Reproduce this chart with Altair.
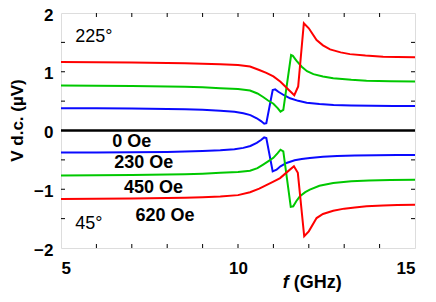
import altair as alt
import pandas as pd

# ---- data ----
zero_f = [5, 15]
zero_v = [0, 0]

blue_pos_f = [5, 6, 7, 8, 8.5, 9, 9.5, 9.9, 10.15, 10.35, 10.53, 10.65, 10.74, 10.8, 10.98, 11.05, 11.14, 11.3, 11.47, 11.7, 11.94, 12.3, 12.7, 13.2, 13.8, 14.4, 15]
blue_pos_v = [0.38, 0.378, 0.374, 0.367, 0.361, 0.352, 0.338, 0.318, 0.295, 0.262, 0.208, 0.16, 0.115, 0.125, 0.69, 0.70, 0.66, 0.6, 0.548, 0.505, 0.473, 0.45, 0.434, 0.426, 0.421, 0.418, 0.416]

green_pos_f = [5, 6, 7, 7.5, 8, 8.5, 9, 9.5, 10, 10.34, 10.55, 10.71, 10.85, 11.0, 11.12, 11.2, 11.28, 11.5, 11.55, 11.65, 11.8, 11.95, 12.13, 12.4, 12.69, 13.2, 13.63, 14.3, 15]
green_pos_v = [0.765, 0.763, 0.757, 0.755, 0.75, 0.745, 0.735, 0.72, 0.705, 0.68, 0.63, 0.57, 0.51, 0.455, 0.38, 0.32, 0.35, 1.285, 1.27, 1.19, 1.086, 1.01, 0.96, 0.92, 0.888, 0.862, 0.848, 0.84, 0.835]

red_pos_f = [5, 6, 7, 7.5, 8, 8.5, 9, 9.5, 10, 10.34, 10.6, 10.8, 11.0, 11.2, 11.4, 11.59, 11.7, 11.86, 12.0, 12.22, 12.4, 12.6, 12.9, 13.16, 13.6, 14.1, 14.5, 15]
red_pos_v = [1.166, 1.163, 1.158, 1.154, 1.15, 1.145, 1.138, 1.128, 1.115, 1.09, 1.03, 0.98, 0.92, 0.83, 0.71, 0.60, 0.75, 1.825, 1.74, 1.54, 1.45, 1.38, 1.33, 1.30, 1.275, 1.256, 1.25, 1.245]

blue_neg_f = [5, 6, 7, 8, 8.5, 9, 9.5, 9.9, 10.15, 10.35, 10.53, 10.65, 10.74, 10.8, 10.98, 11.09, 11.2, 11.37, 11.6, 11.8, 12.03, 12.4, 12.8, 13.3, 13.9, 14.5, 15]
blue_neg_v = [-0.375, -0.374, -0.371, -0.365, -0.359, -0.35, -0.337, -0.318, -0.296, -0.263, -0.21, -0.162, -0.118, -0.128, -0.695, -0.667, -0.61, -0.553, -0.508, -0.485, -0.468, -0.448, -0.434, -0.426, -0.42, -0.417, -0.415]

green_neg_f = [5, 6, 7, 7.5, 8, 8.5, 9, 9.5, 10, 10.34, 10.55, 10.71, 10.85, 11.0, 11.12, 11.2, 11.28, 11.49, 11.56, 11.65, 11.75, 11.9, 12.03, 12.3, 12.69, 13.2, 13.7, 14.3, 15]
green_neg_v = [-0.765, -0.762, -0.757, -0.754, -0.75, -0.745, -0.735, -0.72, -0.705, -0.685, -0.64, -0.58, -0.525, -0.465, -0.385, -0.327, -0.355, -1.30, -1.29, -1.2, -1.12, -1.05, -1.007, -0.94, -0.894, -0.864, -0.85, -0.842, -0.837]

red_neg_f = [5, 6, 7, 7.5, 8, 8.5, 9, 9.5, 10, 10.34, 10.6, 10.8, 11.0, 11.19, 11.4, 11.58, 11.69, 11.87, 12.0, 12.22, 12.4, 12.69, 13.0, 13.3, 13.63, 14.1, 14.5, 15]
red_neg_v = [-1.165, -1.162, -1.157, -1.153, -1.148, -1.143, -1.135, -1.125, -1.10, -1.05, -0.99, -0.93, -0.87, -0.81, -0.70, -0.61, -0.72, -1.80, -1.716, -1.49, -1.42, -1.365, -1.33, -1.31, -1.29, -1.275, -1.268, -1.263]

field_labels = ["0 Oe", "230 Oe", "450 Oe", "620 Oe"]
field_label_f = [7.0, 7.34, 7.61, 7.94]
field_label_v = [-0.19, -0.558, -0.984, -1.45]

angle_labels = ["225°", "45°"]
angle_label_f = [5.40, 5.40]
angle_label_v = [1.597, -1.59]

x_tick_labels = [5, 10, 15]
y_tick_labels = [-2, -1, 0, 1, 2]
x_minor = [6, 7, 8, 9, 10, 11, 12, 13, 14]
y_minor = [-1.5, -1, -0.5, 0, 0.5, 1, 1.5]

series_colors = {"blue": "#0a0aff", "green": "#00c800", "red": "#ff0000"}

rows = []
for name, col, fs, vs in [
    ("blue+", "blue", blue_pos_f, blue_pos_v),
    ("green+", "green", green_pos_f, green_pos_v),
    ("red+", "red", red_pos_f, red_pos_v),
    ("blue-", "blue", blue_neg_f, blue_neg_v),
    ("green-", "green", green_neg_f, green_neg_v),
    ("red-", "red", red_neg_f, red_neg_v),
]:
    for f, v in zip(fs, vs):
        rows.append({"series": name, "col": col, "f": f, "v": v})
df = pd.DataFrame(rows)

FONT = "Liberation Sans"
xscale = alt.Scale(domain=[5, 15], nice=False, zero=False)
yscale = alt.Scale(domain=[-2, 2], nice=False, zero=False)

xaxis = alt.Axis(values=x_tick_labels, ticks=False, domain=False, grid=False, format="d",
                 labelFont=FONT, labelFontSize=17, labelFontWeight="bold",
                 labelPadding=12, labelColor="black", title=None)
yaxis = alt.Axis(values=y_tick_labels, ticks=False, domain=False, grid=False, format="d",
                 labelFont=FONT, labelFontSize=17, labelFontWeight="bold",
                 labelPadding=8, labelColor="black", labelOffset=2,
                 title="V d.c. (µV)", titleFont=FONT, titleFontSize=17,
                 titleFontWeight="bold", titleColor="black",
                 titleX=-35, titleY=107)

curves = alt.Chart(df).mark_line(strokeWidth=2, clip=True).encode(
    x=alt.X("f:Q", scale=xscale, axis=xaxis),
    y=alt.Y("v:Q", scale=yscale, axis=yaxis),
    color=alt.Color("col:N", scale=alt.Scale(domain=list(series_colors.keys()),
                                               range=list(series_colors.values())), legend=None),
    detail="series:N",
    order="f:Q",
)

zero = alt.Chart(pd.DataFrame({"f": zero_f, "v": zero_v})).mark_line(
    color="black", strokeWidth=2.5).encode(x="f:Q", y="v:Q")

xt = pd.DataFrame({"f": x_minor})
yt = pd.DataFrame({"v": y_minor})
tick_style = dict(color="black", strokeWidth=1)
ticks = [
    alt.Chart(xt).mark_rule(**tick_style).encode(x="f:Q", y=alt.value(235), y2=alt.value(231)),
    alt.Chart(xt).mark_rule(**tick_style).encode(x="f:Q", y=alt.value(0), y2=alt.value(4)),
    alt.Chart(yt).mark_rule(**tick_style).encode(y="v:Q", x=alt.value(0), x2=alt.value(4)),
    alt.Chart(yt).mark_rule(**tick_style).encode(y="v:Q", x=alt.value(354), x2=alt.value(350)),
]

flab = alt.Chart(pd.DataFrame({"t": field_labels, "f": field_label_f, "v": field_label_v})).mark_text(
    font=FONT, fontSize=18, fontWeight="bold", color="black", align="center", baseline="middle"
).encode(x="f:Q", y="v:Q", text="t:N")

alab = alt.Chart(pd.DataFrame({"t": angle_labels, "f": angle_label_f, "v": angle_label_v})).mark_text(
    font=FONT, fontSize=18, color="black", align="left", baseline="middle"
).encode(x="f:Q", y="v:Q", text="t:N")

xtitle_f = alt.Chart(pd.DataFrame({"t": ["f"], "f": [11.35]})).mark_text(
    font=FONT, fontSize=18, fontWeight="bold", fontStyle="italic", color="black",
    align="center", baseline="middle"
).encode(x="f:Q", y=alt.value(270), text="t:N")
xtitle_u = alt.Chart(pd.DataFrame({"t": ["(GHz)"], "f": [12.25]})).mark_text(
    font=FONT, fontSize=18, fontWeight="bold", color="black",
    align="center", baseline="middle"
).encode(x="f:Q", y=alt.value(270), text="t:N")

chart = alt.layer(curves, zero, *ticks, flab, alab, xtitle_f, xtitle_u).properties(
    width=354, height=235,
    autosize=alt.AutoSizeParams(type="none"),
    padding={"left": 53, "top": 5, "right": 13, "bottom": 46},
).configure_view(stroke="black", strokeWidth=1.5).configure(background="white")

chart.save("out.html", embed_options={"renderer": "svg", "actions": False})
